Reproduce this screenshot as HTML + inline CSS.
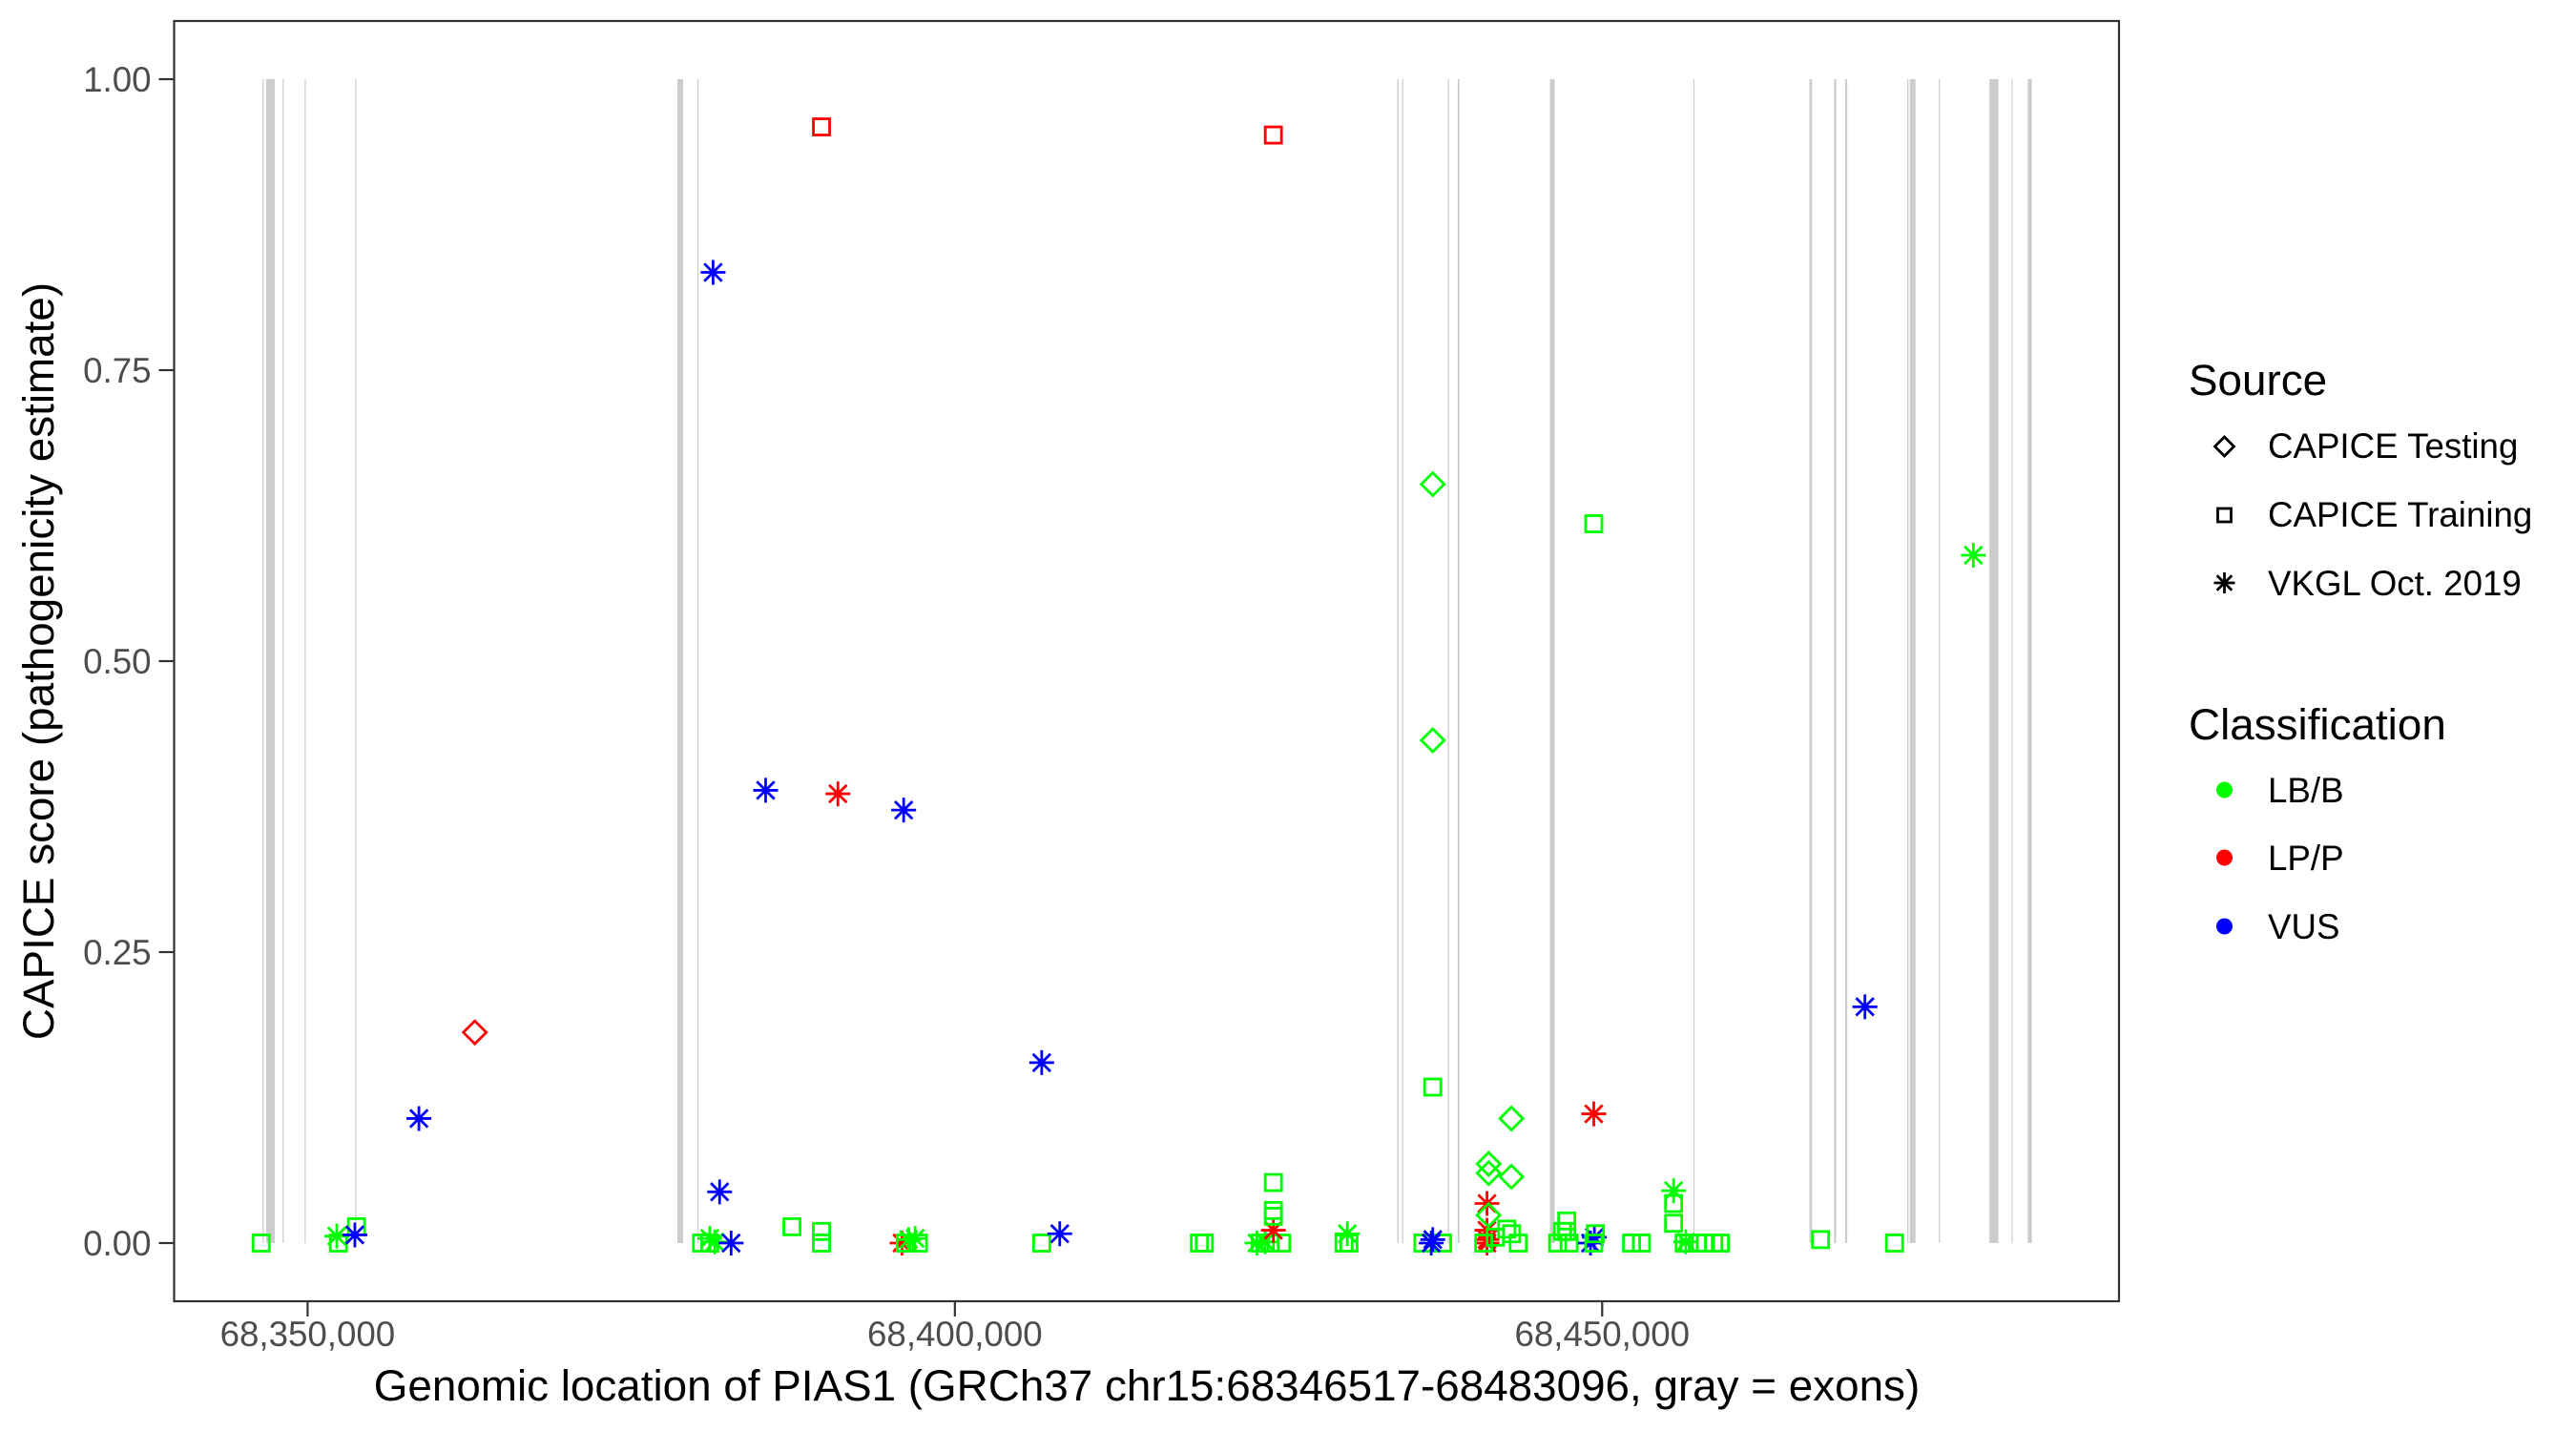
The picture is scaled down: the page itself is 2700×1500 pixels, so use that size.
<!DOCTYPE html>
<html><head><meta charset="utf-8"><style>
html,body{margin:0;padding:0;background:#fff;}
svg{display:block;font-family:"Liberation Sans",Arial,sans-serif;}
</style></head><body>
<svg id="chart" width="2700" height="1500" viewBox="0 0 2700 1500" xmlns="http://www.w3.org/2000/svg">
<rect x="0" y="0" width="2700" height="1500" fill="#fff"/>
<g id="exons"></g>
<g id="points"></g>
<rect x="182.5" y="22" width="2038.5" height="1342" fill="none" stroke="#333" stroke-width="2.2"/>
<g id="axes"></g>
<text x="1202" y="1468" font-size="45.8" text-anchor="middle" fill="#000">Genomic location of PIAS1 (GRCh37 chr15:68346517-68483096, gray = exons)</text>
<text transform="translate(56,693) rotate(-90)" font-size="45.8" text-anchor="middle" fill="#000">CAPICE score (pathogenicity estimate)</text>
<g id="legend">
<text x="2294" y="414" font-size="45.8" fill="#000">Source</text>
<g>
<path d="M2331.5,458 L2341.5,468 L2331.5,478 L2321.5,468 Z" fill="none" stroke="#000" stroke-width="2.8"/>
<text x="2377" y="480" font-size="36.7" fill="#000">CAPICE Testing</text></g>
<g>
<rect x="2324.5" y="533" width="14" height="14" fill="none" stroke="#000" stroke-width="2.8"/>
<text x="2377" y="552" font-size="36.7" fill="#000">CAPICE Training</text></g>
<g>
<path d="M2331.5,600 V622 M2320.5,611 H2342.5 M2323.7,603.2 L2339.3,618.8 M2323.7,618.8 L2339.3,603.2" stroke="#000" stroke-width="2.8"/>
<text x="2377" y="624" font-size="36.7" fill="#000">VKGL Oct. 2019</text></g>
<text x="2294" y="775" font-size="45.8" fill="#000">Classification</text>
<g><circle cx="2331.5" cy="828" r="8.5" fill="#00FF00"/><text x="2377" y="841" font-size="36.7" fill="#000">LB/B</text></g>
<g><circle cx="2331.5" cy="899" r="8.5" fill="#FF0000"/><text x="2377" y="912" font-size="36.7" fill="#000">LP/P</text></g>
<g><circle cx="2331.5" cy="971" r="8.5" fill="#0000FF"/><text x="2377" y="984" font-size="36.7" fill="#000">VUS</text></g>
</g>
</svg>
<script>
const xTicks = [68350000, 68400000, 68450000];
const xTickLabels = ["68,350,000", "68,400,000", "68,450,000"];
const yTicks = [0, 0.25, 0.5, 0.75, 1];
const yTickLabels = ["0.00", "0.25", "0.50", "0.75", "1.00"];
const geneStart = 68346517;
const geneEnd = 68483096;
const exonStarts = [68346517,68346797,68348072,68349768,68353674,68378566,68380114,68434171,68434539,68438078,68438844,68445965,68457049,68466011,68467912,68468767,68473566,68473765,68476006,68479912,68481622,68482883];
const exonEnds   = [68346613,68347460,68348146,68349841,68353748,68379008,68380188,68434282,68434613,68438152,68438977,68446333,68457123,68466217,68468082,68468930,68473662,68474207,68476080,68480605,68481696,68483193];
const pointPos = [68346414,68352253,68352380,68353776,68353649,68358599,68362915,
68380431,68381066,68381447,68381066,68381827,68381320,68382716,68387412,68389697,68389697,68389697,68385381,68390966,68396044,
68395917,68396424,68396932,68396171,68397186,68406706,68406706,68408102,68418891,68419272,
68423333,68423587,68423968,68424349,68425238,68424603,68424603,68424603,68424603,68424603,
68430315,68430061,68430442,68436915,68436915,68436915,68436153,68437676,68436915,68436797,
68441231,68441231,68442989,68442989,68441104,68441104,68441104,68441104,68441220,
68440850,68441739,68442628,68443008,68443516,68446562,68446943,68447264,68447264,68447451,
68449354,68449354,68449100,68449402,68449354,68449481,68452273,68453035,
68455519,68455519,68455519,68456335,68456462,68456716,68457351,68457985,68458620,68459128,
68466870,68470298,68472583,68478675];
const pointScore = [0,0.006,0,0.014,0.007,0.107,0.181,
0,0.004,0.001,0,0.044,0.834,0,0.014,0.010,0,0.959,0.389,0.386,0.372,
0,0.003,0.004,0,0,0,0.155,0.008,0,0,
0,0,0.001,0,0,0.011,0.023,0.028,0.052,0.952,
0.008,0,0,0.652,0.432,0.134,0,0,0.003,0,
0.068,0.060,0.107,0.057,0.034,0.011,0.003,0,0.024,
0,0.005,0.012,0.008,0,0,0.010,0.019,0.010,0,
0.618,0.111,0,0.005,0,0.008,0,0,
0.045,0.034,0.017,0,0.001,0,0,0,0,0,
0.003,0.203,0,0.591];
const pointClass = ["LB","LB","LB","LB","VUS","VUS","LP",
"LB","LB","LB","LB","VUS","VUS","VUS","LB","LB","LB","LP","VUS","LP","VUS",
"LP","LB","LB","LB","LB","LB","VUS","VUS","LB","LB",
"LB","LB","LB","LB","LB","LP","LB","LB","LB","LP",
"LB","LB","LB","LB","LB","LB","LB","LB","VUS","VUS",
"LB","LB","LB","LB","LP","LP","LP","LP","LB",
"LB","LB","LB","LB","LB","LB","LB","LB","LB","LB",
"LB","LP","VUS","VUS","LB","LB","LB","LB",
"LB","LB","LB","LB","LB","LB","LB","LB","LB","LB",
"LB","VUS","LB","LB"];
const pointSource = ["R","V","R","R","V","V","T",
"R","V","V","R","V","V","V","R","R","R","R","V","V","V",
"V","V","V","R","R","R","V","V","R","R",
"V","R","V","R","R","V","R","R","R","R",
"V","R","R","T","T","R","R","R","V","V",
"T","T","T","T","V","V","V","V","T",
"R","R","R","R","R","R","R","R","R","R",
"R","V","V","V","R","R","R","R",
"V","R","R","R","V","R","R","R","R","R",
"R","V","R","V"];

const PL = 182.5, PR = 2221, PT = 22, PB = 1364;
const pxPerBp = (PR - PL) / ((geneEnd - geneStart) * 1.1);
function xScale(g){ return PL + (geneEnd - geneStart) * 0.05 * pxPerBp + (g - geneStart) * pxPerBp; }
function yScale(v){ return PB - (v + 0.05) / 1.1 * (PB - PT); }
const NS = "http://www.w3.org/2000/svg";
function mk(tag, attrs, parent){ const e = document.createElementNS(NS, tag); for (const k in attrs) e.setAttribute(k, attrs[k]); parent.appendChild(e); return e; }

const exG = document.getElementById('exons');
for (let i = 0; i < exonStarts.length; i++) {
  const x1 = xScale(exonStarts[i]), x2 = xScale(exonEnds[i]);
  const w = Math.max(1.2, x2 - x1);
  const r = mk('rect', {x: x1, y: yScale(1), width: w, height: yScale(0) - yScale(1), fill: '#CCCCCC'}, exG);
  
  
}

const ax = document.getElementById('axes');
for (let i = 0; i < xTicks.length; i++) {
  const x = xScale(xTicks[i]);
  const t = mk('line', {x1: x, x2: x, y1: PB, y2: PB + 16, stroke: '#333', 'stroke-width': 2.2}, ax);
  
  
  const l = mk('text', {x: x, y: PB + 47, 'font-size': 36.7, 'text-anchor': 'middle', fill: '#4D4D4D'}, ax);
  l.textContent = xTickLabels[i];
  
  
}
for (let i = 0; i < yTicks.length; i++) {
  const y = yScale(yTicks[i]);
  const t = mk('line', {x1: PL - 16, x2: PL, y1: y, y2: y, stroke: '#333', 'stroke-width': 2.2}, ax);
  
  
  const l = mk('text', {x: PL - 24, y: y + 13, 'font-size': 36.7, 'text-anchor': 'end', fill: '#4D4D4D'}, ax);
  l.textContent = yTickLabels[i];
  
  
}

const colors = {LB: '#00FF00', LP: '#FF0000', VUS: '#0000FF'};
const pg = document.getElementById('points');
for (let i = 0; i < pointPos.length; i++) {
  const x = xScale(pointPos[i]), y = yScale(pointScore[i]);
  const c = colors[pointClass[i]];
  let el;
  if (pointSource[i] === 'R') {
    el = mk('rect', {x: x - 8.5, y: y - 8.5, width: 17, height: 17, fill: 'none', stroke: c, 'stroke-width': 2.8}, pg);
  } else if (pointSource[i] === 'T') {
    el = mk('path', {d: `M${x},${y-12} L${x+12},${y} L${x},${y+12} L${x-12},${y} Z`, fill: 'none', stroke: c, 'stroke-width': 2.8}, pg);
  } else {
    el = mk('path', {d: `M${x},${y-13} V${y+13} M${x-13},${y} H${x+13} M${x-9.2},${y-9.2} L${x+9.2},${y+9.2} M${x-9.2},${y+9.2} L${x+9.2},${y-9.2}`, stroke: c, 'stroke-width': 2.8}, pg);
  }
  
  
}
</script>
</body></html>
